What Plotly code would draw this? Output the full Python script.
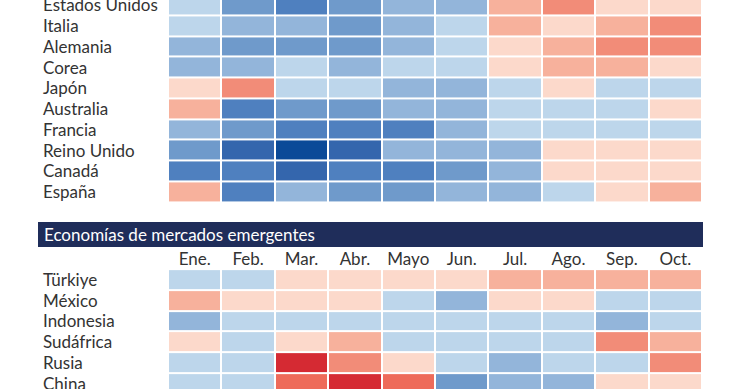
import plotly.graph_objects as go

months = ["Ene.", "Feb.", "Mar.", "Abr.", "Mayo", "Jun.", "Jul.", "Ago.", "Sep.", "Oct."]
adv_countries = ["Estados Unidos", "Italia", "Alemania", "Corea", "Japón", "Australia",
                 "Francia", "Reino Unido", "Canadá", "España"]
adv_values = [
    [-1, -3, -4, -3, -2, -2, 2, 3, 1, 1],
    [-1, -2, -2, -3, -2, -1, 2, 1, 2, 3],
    [-2, -3, -3, -3, -2, -1, 1, 2, 3, 3],
    [-2, -2, -1, -2, -1, -1, 1, 2, 2, 1],
    [1, 3, -1, -1, -2, -2, -1, 1, -1, -1],
    [2, -4, -3, -3, -2, -2, -1, -1, -1, 1],
    [-2, -3, -4, -4, -4, -2, -1, -1, -1, -1],
    [-3, -5, -6, -5, -2, -2, -2, 1, 1, 1],
    [-4, -4, -5, -4, -4, -3, -2, 1, 1, 1],
    [2, -4, -2, -3, -3, -2, -2, -1, 1, 2],
]
em_title = "Economías de mercados emergentes"
em_countries = ["Türkiye", "México", "Indonesia", "Sudáfrica", "Rusia", "China"]
em_values = [
    [-1, -1, 1, 1, 1, 1, 2, 2, 2, 2],
    [2, 1, 1, 1, -1, -2, 1, 1, -1, -1],
    [-2, -1, -1, -1, -1, -1, -1, -1, -2, -1],
    [1, -1, 1, 2, -1, -1, -1, -1, 3, 2],
    [-1, -1, 5, 3, 1, -1, -2, -1, -1, 3],
    [-1, -1, 4, 5, 4, -3, -2, -2, 1, 1],
]

# style: discrete diverging palette
ZMIN, ZMAX = -6, 5
level_colors = {
    -6: "#0b4a98", -5: "#3466ad", -4: "#4f80bf", -3: "#6f9acb", -2: "#93b5da",
    -1: "#bdd6eb", 0: "#ffffff", 1: "#fcd9cb", 2: "#f7b19c", 3: "#f28c78",
    4: "#ee6b5a", 5: "#d52a33",
}
colorscale = [[(v - ZMIN) / (ZMAX - ZMIN), c] for v, c in sorted(level_colors.items())]

W, H = 740, 389
FONT = "Lato"
FS = 17
TXT = "#333333"

def px_x(p):
    return p / W

def px_y(p):
    return 1 - p / H

fig = go.Figure()
fig.add_trace(go.Heatmap(z=adv_values, x=months, y=adv_countries, colorscale=colorscale,
                         zmin=ZMIN, zmax=ZMAX, showscale=False, xgap=2, ygap=2,
                         xaxis="x", yaxis="y", hoverinfo="x+y+z"))
fig.add_trace(go.Heatmap(z=em_values, x=months, y=em_countries, colorscale=colorscale,
                         zmin=ZMIN, zmax=ZMAX, showscale=False, xgap=2, ygap=2,
                         xaxis="x2", yaxis="y2", hoverinfo="x+y+z"))

xdom = [px_x(168), px_x(702)]
pitch = 20.75
top_y0 = 4.75  # center pixel of first advanced row
top_bottom_px = top_y0 + pitch * 9.5
em_top_px = 269.1
em_first_center = em_top_px + pitch / 2

annotations = []
for c in adv_countries:
    annotations.append(dict(x=px_x(41), xref="paper", y=c, yref="y", text=c, showarrow=False,
                            xanchor="left", yanchor="middle",
                            font=dict(family=FONT, size=FS, color=TXT)))
for c in em_countries:
    annotations.append(dict(x=px_x(41), xref="paper", y=c, yref="y2", text=c, showarrow=False,
                            xanchor="left", yanchor="middle",
                            font=dict(family=FONT, size=FS, color=TXT)))
annotations.append(dict(x=px_x(42), xref="paper", y=px_y(234.5), yref="paper", text=em_title,
                        showarrow=False, xanchor="left", yanchor="middle",
                        font=dict(family=FONT, size=FS, color="#ffffff")))

fig.update_layout(
    width=W, height=H, margin=dict(l=0, r=0, t=0, b=0),
    paper_bgcolor="white", plot_bgcolor="white",
    font=dict(family=FONT, size=FS, color=TXT),
    xaxis=dict(domain=xdom, showticklabels=False, showgrid=False, zeroline=False,
               showline=False, ticks="", anchor="y"),
    yaxis=dict(domain=[px_y(top_bottom_px), 1], showticklabels=False, showgrid=False,
               zeroline=False, range=[9.5, -top_y0 / pitch], anchor="x"),
    xaxis2=dict(domain=xdom, side="top", showgrid=False, zeroline=False, showline=False,
                ticks="", anchor="y2", tickfont=dict(family=FONT, size=FS, color=TXT)),
    yaxis2=dict(domain=[0, px_y(em_top_px)], showticklabels=False, showgrid=False,
                zeroline=False, range=[(H - em_first_center) / pitch, -0.5], anchor="x2"),
    shapes=[dict(type="rect", xref="paper", yref="paper", x0=px_x(38), x1=px_x(703),
                 y0=px_y(247), y1=px_y(222), fillcolor="#1f2d5a", line=dict(width=0),
                 layer="below")],
    annotations=annotations,
)

fig.write_html("out.html", config={"displayModeBar": False},
               post_script="document.body.style.margin='0';document.body.style.overflow='hidden';")
